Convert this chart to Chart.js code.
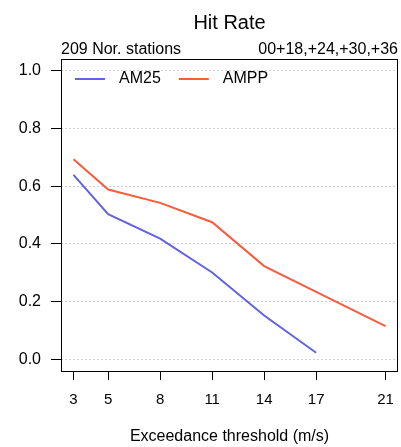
<!DOCTYPE html>
<html lang="en">
  <head>
    <meta charset="UTF-8" />
    <title>Hit Rate</title>
    <script src="https://cdn.jsdelivr.net/npm/chart.js"></script>
    <style>
      body { margin: 0; background: #fff; }
      #wrap { width: 401px; height: 447px; }
    </style>
  </head>
  <body>
    <div id="wrap"><canvas id="hitChart"></canvas></div>
    <script>
      // data
      const thresholds = [3, 5, 8, 11, 14, 17, 21];
      const am25 = [0.639, 0.503, 0.418, 0.301, 0.152, 0.023];
      const ampp = [0.693, 0.588, 0.542, 0.475, 0.323, 0.234, 0.115];
      const yTicks = [0, 0.2, 0.4, 0.6, 0.8, 1.0];
      const seriesNames = ["AM25", "AMPP"];
      const seriesColors = ["#6262e6", "#f95b3e"];

      const FONT = "'Liberation Sans', Arial, sans-serif";

      // title, subtitles, legend and the box round the plot
      const decor = {
        id: "decor",
        afterDraw(chart) {
          const { ctx, chartArea: a } = chart;
          ctx.save();
          ctx.fillStyle = "#000";
          ctx.textBaseline = "middle";

          ctx.font = "20px " + FONT;
          ctx.textAlign = "center";
          ctx.fillText("Hit Rate", (a.left + a.right) / 2, 23);

          ctx.font = "16px " + FONT;
          ctx.textAlign = "left";
          ctx.fillText("209 Nor. stations", a.left, 50);
          ctx.textAlign = "right";
          ctx.fillText("00+18,+24,+30,+36", a.right, 50);

          ctx.textAlign = "center";
          ctx.fillText("Exceedance threshold (m/s)", (a.left + a.right) / 2, 437);

          // legend
          ctx.textAlign = "left";
          let x = a.left + 14;
          const ly = 79;
          seriesNames.forEach((name, i) => {
            ctx.strokeStyle = seriesColors[i];
            ctx.lineWidth = 2;
            ctx.beginPath();
            ctx.moveTo(x, ly);
            ctx.lineTo(x + 30, ly);
            ctx.stroke();
            ctx.fillText(name, x + 44, ly);
            x += 44 + ctx.measureText(name).width + 18;
          });

          ctx.strokeStyle = "#000";
          ctx.lineWidth = 1;
          ctx.strokeRect(a.left + 0.5, a.top + 0.5, a.right - a.left - 1, a.bottom - a.top);
          ctx.restore();
        },
      };

      new Chart(document.getElementById("hitChart"), {
        type: "line",
        data: {
          labels: thresholds,
          datasets: [
            {
              label: seriesNames[0],
              data: am25.map((v, i) => ({ x: thresholds[i], y: v })),
              borderColor: seriesColors[0],
            },
            {
              label: seriesNames[1],
              data: ampp.map((v, i) => ({ x: thresholds[i], y: v })),
              borderColor: seriesColors[1],
            },
          ],
        },
        options: {
          responsive: true,
          maintainAspectRatio: false,
          animation: false,
          layout: { padding: { top: 59, right: 3, left: 0, bottom: 0 } },
          elements: {
            line: { borderWidth: 2, tension: 0 },
            point: { radius: 0, hoverRadius: 0 },
          },
          plugins: {
            legend: { display: false },
            title: { display: false },
            tooltip: { enabled: false },
          },
          scales: {
            x: {
              type: "linear",
              min: 2.28,
              max: 21.72,
              afterBuildTicks: (s) => { s.ticks = thresholds.map((v) => ({ value: v })); },
              afterFit: (s) => {
                s.height = 76;
                s.paddingLeft = 0;
                s.paddingRight = 0;
              },
              border: { display: false },
              grid: {
                drawOnChartArea: false,
                drawTicks: true,
                tickLength: 9,
                tickColor: "#000",
              },
              ticks: {
                autoSkip: false,
                maxRotation: 0,
                padding: 11,
                color: "#000",
                font: { family: FONT, size: 15 },
                callback: (v) => String(v),
              },
            },
            y: {
              min: -0.04,
              max: 1.04,
              afterBuildTicks: (s) => { s.ticks = yTicks.map((v) => ({ value: v })); },
              afterFit: (s) => {
                s.width = 61;
                s.paddingTop = 0;
                s.paddingBottom = 0;
              },
              border: { display: false, dash: [2, 2] },
              grid: {
                color: "#d0d0d0",
                lineWidth: 1,
                drawTicks: true,
                tickLength: 10,
                tickColor: "#000",
                tickBorderDash: [],
              },
              ticks: {
                padding: 10,
                color: "#000",
                font: { family: FONT, size: 16 },
                callback: (v) => Number(v).toFixed(1),
              },
            },
          },
        },
        plugins: [decor],
      });
    </script>
  </body>
</html>
